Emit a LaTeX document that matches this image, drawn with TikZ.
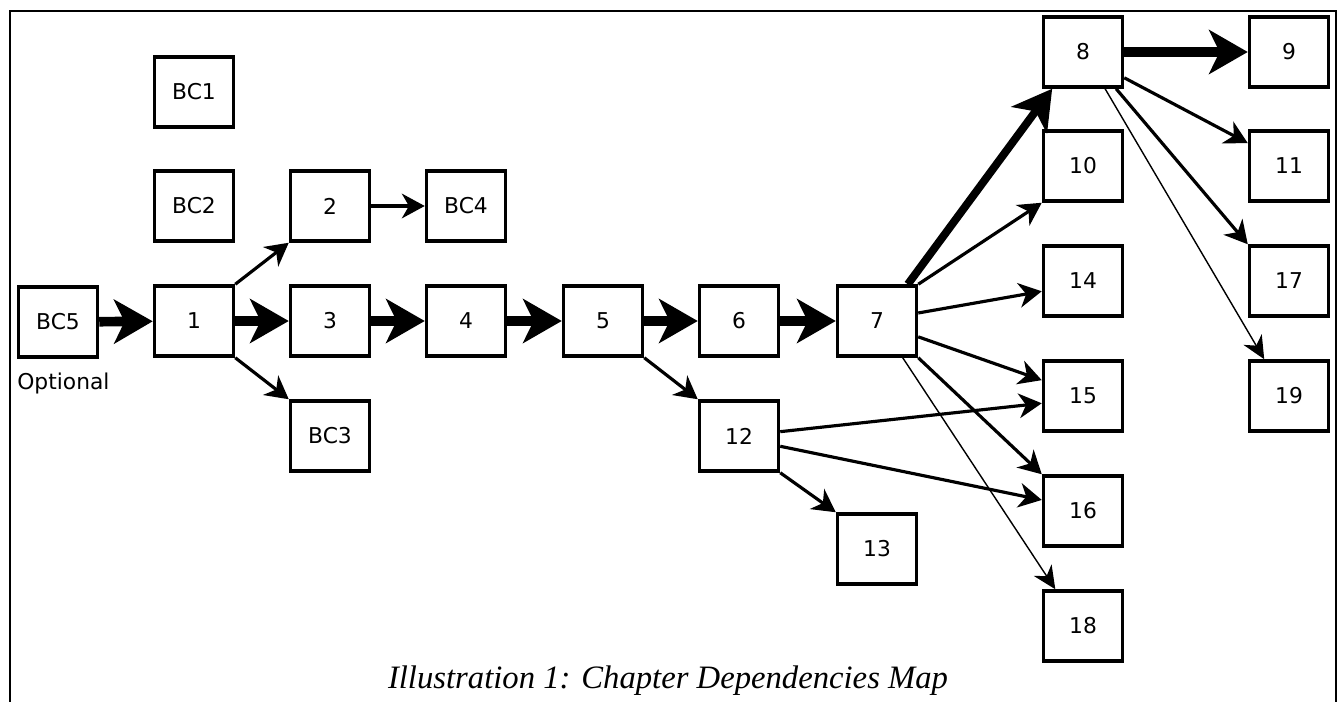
\documentclass[tikz,border=0pt]{standalone}
\usepackage{fontspec}
\setmainfont{DejaVu Sans}
\newfontfamily\capfont{Liberation Serif}
\usetikzlibrary{arrows.meta}

\begin{document}
\begin{tikzpicture}[x=0.02cm, y=-0.02cm,
  chap/.style = {draw, line width=2pt, minimum width=1.58cm, minimum height=1.4cm, inner sep=0pt, font=\fontsize{12.4}{14}\selectfont},
  heavy/.style = {line width=5.5pt, -{Stealth[length=22pt, width=25pt, inset=6pt]}},
  normal/.style = {line width=1.8pt, -{Stealth[length=13pt, width=14pt, inset=4pt]}},
  light/.style = {line width=0.8pt, -{Stealth[length=13pt, width=12pt, inset=4pt]}}]
\useasboundingbox (0,0) rectangle (1337,702);
\draw[line width=1.7pt] (10,720) -- (10,11) -- (1336,11) -- (1336,720);

% left part
\node[chap] (bc1) at (194,92) {BC1};
\node[chap] (bc2) at (194,206) {BC2};
\node[chap] (bc5) at (58,322) {BC5};
\node[anchor=west, inner sep=0pt, font=\fontsize{12.4}{14}\selectfont] (opt) at (17,383) {Optional};
\node[chap] (c1) at (194,321) {1};
\node[chap] (c2) at (330,206) {2};
\node[chap] (bc4) at (466,206) {BC4};
\node[chap] (c3) at (330,321) {3};
\node[chap] (bc3) at (330,436) {BC3};
\node[chap] (c4) at (466,321) {4};
\node[chap] (c5) at (603,321) {5};
\node[chap] (c6) at (739,321) {6};
\node[chap] (c7) at (877,321) {7};
\node[chap] (c12) at (739,436) {12};
\node[chap] (c13) at (877,549) {13};

% right columns
\foreach \n/\y in {8/52,10/166,14/281,15/396,16/511,18/626}
  \node[chap] (c\n) at (1083,\y) {\n};
\foreach \n/\y in {9/52,11/166,17/281,19/396}
  \node[chap] (c\n) at (1289,\y) {\n};

% main line
\draw[heavy] (bc5) -- (c1);
\draw[heavy] (c1) -- (c3);
\draw[heavy] (c3) -- (c4);
\draw[heavy] (c4) -- (c5);
\draw[heavy] (c5) -- (c6);
\draw[heavy] (c6) -- (c7);
\draw[heavy, line width=4.5pt] (c7.50) -- (c8.230);
\draw[heavy] (c8) -- (c9);

\draw[normal] (c1.north east) -- (c2.south west);
\draw[normal] (c1.south east) -- (bc3.north west);
\draw[normal] (c2) -- (bc4);
\draw[normal] (c5.south east) -- (c12.north west);
\draw[normal] (c12.south east) -- (c13.north west);
\draw[normal] (c12.6) -- (c15.190);
\draw[normal] (c12.346) -- (c16.165);
\draw[normal] (c7.north east) -- (c10.south west);
\draw[normal] (c7.11) -- (c14.194);
\draw[normal] (c7.339) -- (c15.159);
\draw[normal] (c7.south east) -- (c16.north west);
\draw[light] (c7.305) -- (c18.127);
\draw[normal] (c8.328) -- (c11.151);
\draw[normal] (c8.312) -- (c17.north west);
\draw[light] (c8.301) -- (c19.124);

\node[font=\capfont\itshape\fontsize{18.6}{22}\selectfont] (cap) at (668,681) {Illustration 1: Chapter Dependencies Map};
\end{tikzpicture}
\end{document}
